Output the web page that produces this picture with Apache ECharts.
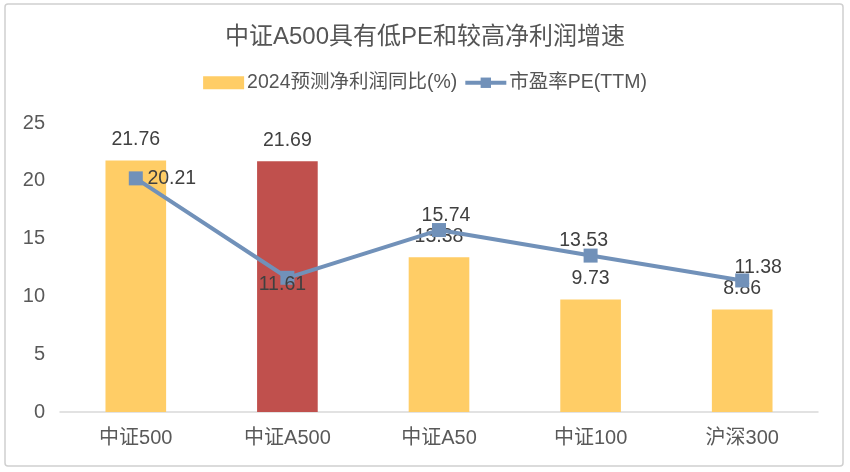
<!DOCTYPE html>
<html><head><meta charset="utf-8">
<script src="https://cdn.jsdelivr.net/npm/echarts@6/dist/echarts.min.js"></script>
<style>html,body{margin:0;padding:0;background:#fff}#c{width:850px;height:472px}</style>
</head><body><div id="c"></div>
<script>
const categories = ['中证500','中证A500','中证A50','中证100','沪深300'];
const profitGrowth = [21.76, 21.69, 13.38, 9.73, 8.86];
const peTTM = [20.21, 11.61, 15.74, 13.53, 11.38];
const yTicks = [0, 5, 10, 15, 20, 25];
const highlightIndex = 1;

const FONT = '"Liberation Sans", Arial, "Noto Sans CJK SC", sans-serif';
const yellow = '#FFCD66';
const red = '#C0504D';
const blue = '#7191B9';
const lineLabelOffsets = [[36,0],[-5,7],[7,-14],[-7,-15],[16,-13]];

const chart = echarts.init(document.getElementById('c'));
chart.setOption({
  animation:false,
  textStyle:{fontFamily:FONT},
  graphic:[{type:'rect', shape:{x:5,y:4,width:838,height:462,r:3}, style:{fill:'none', stroke:'#d0d0d0', lineWidth:1.5}, silent:true}],
  title:{text:'中证A500具有低PE和较高净利润增速', left:'center', top:20,
    textStyle:{fontSize:24, fontWeight:'normal', color:'#555', fontFamily:FONT}},
  legend:{top:68, left:'center', itemWidth:41, itemHeight:13, itemGap:6,
    textStyle:{fontSize:19.5, color:'#555', fontFamily:FONT, padding:[0,0,0,-2]},
    data:[{name:'2024预测净利润同比(%)', icon:'rect'},
          {name:'市盈率PE(TTM)', lineStyle:{width:4, color:blue}, itemStyle:{color:blue}}]},
  grid:{left:60, right:32, top:123, bottom:60},
  xAxis:{type:'category', data:categories,
    axisLine:{lineStyle:{color:'#d9d9d9', width:1.5}}, axisTick:{show:false},
    axisLabel:{fontSize:20, color:'#595959', margin:16, fontFamily:FONT}},
  yAxis:{type:'value', min:yTicks[0], max:yTicks[yTicks.length-1], interval:5,
    splitLine:{show:false}, axisLine:{show:false}, axisTick:{show:false},
    axisLabel:{fontSize:20, color:'#595959', margin:15, fontFamily:FONT}},
  series:[
    {name:'2024预测净利润同比(%)', type:'bar', barWidth:'40%',
      itemStyle:{color:yellow},
      data:profitGrowth.map((v,i)=> i===highlightIndex ? {value:v, itemStyle:{color:red}} : v),
      label:{show:true, position:'top', distance:11, fontSize:19.5, color:'#404040', fontFamily:FONT}},
    {name:'市盈率PE(TTM)', type:'line', symbol:'rect', symbolSize:14,
      lineStyle:{color:blue, width:4}, itemStyle:{color:blue},
      data:peTTM.map((v,i)=>({value:v, label:{show:true, position:'inside', offset:lineLabelOffsets[i], fontSize:19.5, color:'#404040', fontFamily:FONT}})),
      z:3}
  ]
});
</script></body></html>
